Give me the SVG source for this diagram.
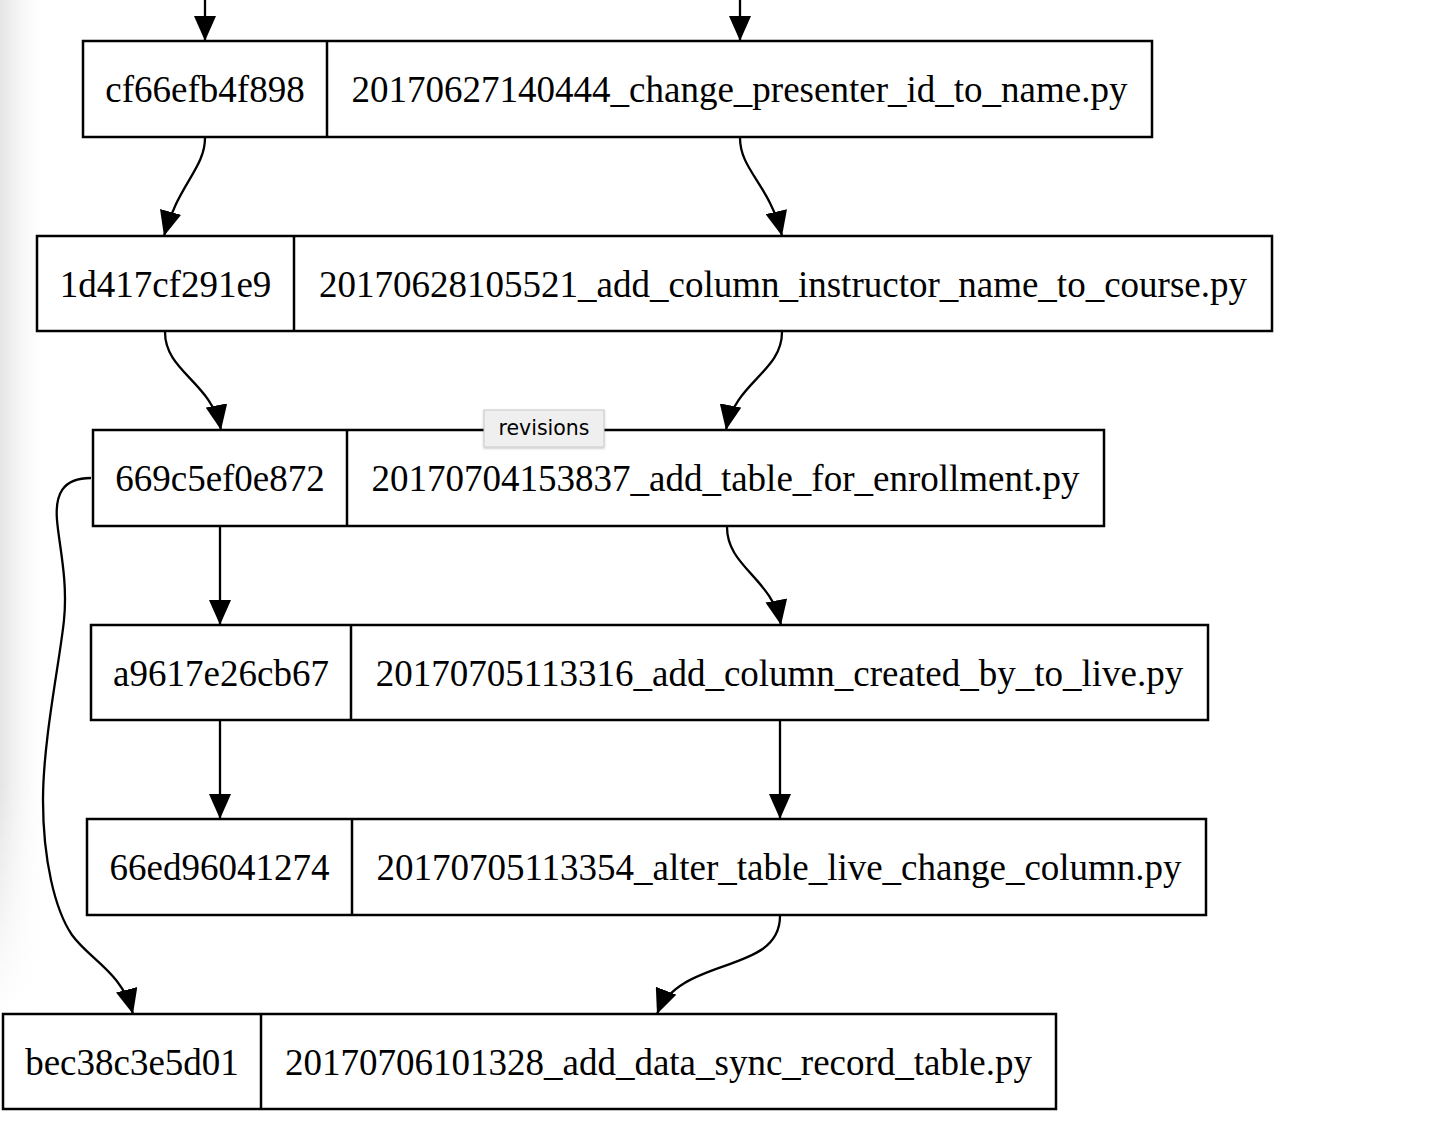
<svg xmlns="http://www.w3.org/2000/svg" width="1434" height="1124" viewBox="0 0 1434 1124">
<style>
.box{fill:#fff;stroke:#000;stroke-width:2.5}
.div{stroke:#000;stroke-width:2.5}
.t{font-family:"Liberation Serif","Times New Roman",serif;font-size:37px;fill:#000;text-anchor:middle}
.e{fill:none;stroke:#000;stroke-width:2.3;marker-end:url(#ah)}
.tip{fill:#efefef;stroke:#c9c9c9;stroke-width:1}
.tipt{font-family:"DejaVu Sans","Liberation Sans",sans-serif;font-size:20.5px;fill:#000;text-anchor:middle}
</style>
<defs>
<marker id="ah" viewBox="0 0 25 22" markerUnits="userSpaceOnUse" markerWidth="25" markerHeight="22" refX="25" refY="11" orient="auto">
<path d="M0,0 L25,11 L0,22 z" fill="#000"/>
</marker>
<linearGradient id="lg" x1="0" y1="0" x2="1" y2="0">
<stop offset="0" stop-color="#e4e4e4"/>
<stop offset="1" stop-color="#ffffff" stop-opacity="0"/>
</linearGradient>
<linearGradient id="vg" x1="0" y1="0" x2="0" y2="1">
<stop offset="0" stop-color="#fff"/>
<stop offset="0.7" stop-color="#fff"/>
<stop offset="0.9" stop-color="#000"/>
</linearGradient>
<mask id="vm"><rect x="0" y="0" width="60" height="1124" fill="url(#vg)"/></mask>
<filter id="sh" x="-10%" y="-20%" width="120%" height="150%"><feDropShadow dx="0" dy="1" stdDeviation="1.2" flood-color="#000" flood-opacity="0.25"/></filter>
</defs>
<rect x="0" y="0" width="1434" height="1124" fill="#fff"/>
<rect x="0" y="0" width="50" height="1124" fill="url(#lg)" mask="url(#vm)"/>

<g id="edges">
<path class="e" d="M205,0 L205,41"/>
<path class="e" d="M740,0 L740,41"/>
<path class="e" d="M205,138 C205,168 178,185 164,236"/>
<path class="e" d="M740,138 C740,170 770,185 782,236"/>
<path class="e" d="M165,332 C165,372 212,382 221,430"/>
<path class="e" d="M782,332 C782,372 735,382 726,430"/>
<path class="e" d="M220,527 L220,625"/>
<path class="e" d="M727,527 C727,567 772,578 781,625"/>
<path class="e" d="M220,721 L220,819"/>
<path class="e" d="M780,721 L780,819"/>
<path class="e" d="M780,916 C780,975 680,955 657,1014"/>
<path class="e" d="M91,478 C62,478 55,495 57,520 C59,545 68,580 64,620 C60,660 43,740 43,800 C43,860 55,910 72,935 C90,960 122,972 133,1014"/>
</g>

<g id="n1">
<rect class="box" x="83" y="41" width="1069" height="96"/>
<line class="div" x1="327" y1="41" x2="327" y2="137"/>
<text class="t" x="205" y="102">cf66efb4f898</text>
<text class="t" x="739.5" y="102">20170627140444_change_presenter_id_to_name.py</text>
</g>
<g id="n2">
<rect class="box" x="37" y="236" width="1235" height="95"/>
<line class="div" x1="294" y1="236" x2="294" y2="331"/>
<text class="t" x="165.5" y="297">1d417cf291e9</text>
<text class="t" x="783" y="297">20170628105521_add_column_instructor_name_to_course.py</text>
</g>
<g id="n3">
<rect class="box" x="93" y="430" width="1011" height="96"/>
<line class="div" x1="347" y1="430" x2="347" y2="526"/>
<text class="t" x="220" y="491">669c5ef0e872</text>
<text class="t" x="725.5" y="491">20170704153837_add_table_for_enrollment.py</text>
</g>
<g id="n4">
<rect class="box" x="91" y="625" width="1117" height="95"/>
<line class="div" x1="351" y1="625" x2="351" y2="720"/>
<text class="t" x="221" y="686">a9617e26cb67</text>
<text class="t" x="779.5" y="686">20170705113316_add_column_created_by_to_live.py</text>
</g>
<g id="n5">
<rect class="box" x="87" y="819" width="1119" height="96"/>
<line class="div" x1="352" y1="819" x2="352" y2="915"/>
<text class="t" x="219.5" y="880">66ed96041274</text>
<text class="t" x="779" y="880">20170705113354_alter_table_live_change_column.py</text>
</g>
<g id="n6">
<rect class="box" x="3" y="1014" width="1053" height="95"/>
<line class="div" x1="261" y1="1014" x2="261" y2="1109"/>
<text class="t" x="132" y="1075">bec38c3e5d01</text>
<text class="t" x="658.5" y="1075">20170706101328_add_data_sync_record_table.py</text>
</g>

<g id="tooltip">
<rect class="tip" x="484" y="410" width="120" height="37" filter="url(#sh)"/>
<text class="tipt" x="544" y="435">revisions</text>
</g>
</svg>
